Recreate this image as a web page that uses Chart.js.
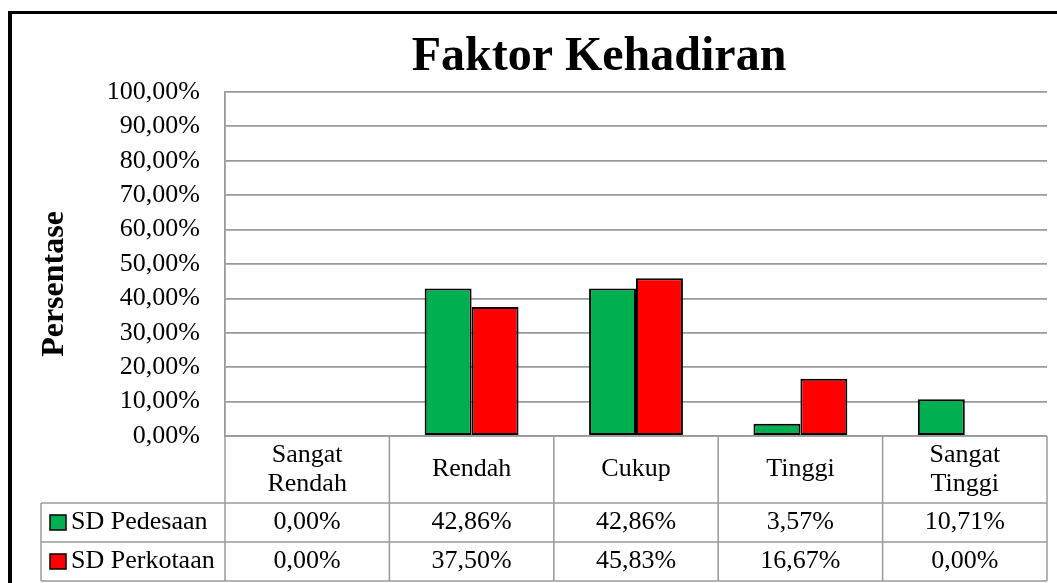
<!DOCTYPE html>
<html>
<head>
<meta charset="utf-8">
<script src="https://cdn.jsdelivr.net/npm/chart.js@4/dist/chart.umd.min.js"></script>
<style>
  body { margin: 0; background: #fff; }
</style>
</head>
<body>
<canvas id="kehadiranChart" width="1057" height="583"></canvas>
<script>
var categories = [["Sangat", "Rendah"], ["Rendah"], ["Cukup"], ["Tinggi"], ["Sangat", "Tinggi"]];
var seriesNames = ["SD Pedesaan", "SD Perkotaan"];
var pedesaan = [0, 42.86, 42.86, 3.57, 10.71];
var perkotaan = [0, 37.50, 45.83, 16.67, 0];
var barColors = ["#00B050", "#FF0000"];

var serif = "'Liberation Serif', 'Times New Roman', serif";
var gridGray = "#9a9a9a";

function pct(v) {
    return v.toFixed(2).replace(".", ",") + "%";
}

// frame, title, axis title and the data table under the plot
var extras = {
    id: "extras",
    afterDraw: function (chart) {
        var ctx = chart.ctx;
        var area = chart.chartArea;
        var x = chart.scales.x;
        var catW = area.width / categories.length;
        var rowTop = area.bottom;
        var rowHead = 503, row1 = 542, row2 = 581;
        var labelLeft = 41;

        ctx.save();
        // outer frame
        ctx.strokeStyle = "#000";
        ctx.lineWidth = 3;
        ctx.beginPath();
        ctx.moveTo(8, 12.5);
        ctx.lineTo(1057, 12.5);
        ctx.stroke();
        ctx.lineWidth = 4;
        ctx.beginPath();
        ctx.moveTo(10, 11);
        ctx.lineTo(10, 583);
        ctx.stroke();

        // title
        ctx.fillStyle = "#000";
        ctx.textAlign = "center";
        ctx.textBaseline = "alphabetic";
        ctx.font = "bold 48px " + serif;
        ctx.fillText("Faktor Kehadiran", 599, 70);

        // y axis title
        ctx.save();
        ctx.translate(55, 284);
        ctx.rotate(-Math.PI / 2);
        ctx.textBaseline = "middle";
        ctx.font = "bold 32px " + serif;
        ctx.fillText("Persentase", 0, 0);
        ctx.restore();

        // table lines
        ctx.strokeStyle = gridGray;
        ctx.lineWidth = 1.5;
        ctx.beginPath();
        [rowHead, row1, row2].forEach(function (y) {
            ctx.moveTo(labelLeft, y);
            ctx.lineTo(area.right, y);
        });
        ctx.moveTo(area.left, rowTop);
        ctx.lineTo(area.right, rowTop);
        ctx.moveTo(labelLeft, rowHead);
        ctx.lineTo(labelLeft, row2);
        for (var i = 0; i <= categories.length; i++) {
            var lx = area.left + i * catW;
            ctx.moveTo(lx, rowTop);
            ctx.lineTo(lx, row2);
        }
        ctx.stroke();

        // table text
        ctx.fillStyle = "#000";
        ctx.font = "26px " + serif;
        ctx.textAlign = "center";
        ctx.textBaseline = "middle";
        var headMid = (rowTop + rowHead) / 2;
        categories.forEach(function (lines, i) {
            var cx = x.getPixelForValue(i);
            var lh = 29;
            var y0 = headMid - (lines.length - 1) * lh / 2;
            lines.forEach(function (t, k) {
                ctx.fillText(t, cx, y0 + k * lh);
            });
        });
        var rows = [pedesaan, perkotaan];
        var mids = [(rowHead + row1) / 2, (row1 + row2) / 2];
        rows.forEach(function (vals, r) {
            vals.forEach(function (v, i) {
                ctx.fillText(pct(v), x.getPixelForValue(i), mids[r]);
            });
            // legend key + name
            ctx.fillStyle = barColors[r];
            ctx.fillRect(50, mids[r] - 7.5, 16, 15);
            ctx.strokeStyle = "#000";
            ctx.lineWidth = 1.5;
            ctx.strokeRect(50, mids[r] - 7.5, 16, 15);
            ctx.fillStyle = "#000";
            ctx.textAlign = "left";
            ctx.fillText(seriesNames[r], 71, mids[r]);
            ctx.textAlign = "center";
        });
        ctx.restore();
    }
};

function edge(ctx) {
    return ctx.raw === 0 ? 0 : 2;
}

new Chart("kehadiranChart", {
    type: "bar",
    data: {
        labels: categories.map(function (c) { return c.join(" "); }),
        datasets: [{
            label: seriesNames[0],
            data: pedesaan,
            backgroundColor: barColors[0],
            borderColor: "#000",
            borderWidth: edge,
            borderSkipped: false
        }, {
            label: seriesNames[1],
            data: perkotaan,
            backgroundColor: barColors[1],
            borderColor: "#000",
            borderWidth: edge,
            borderSkipped: false
        }]
    },
    options: {
        responsive: false,
        animation: false,
        devicePixelRatio: 1,
        layout: {
            padding: { top: 92, right: 10, left: 0, bottom: 0 }
        },
        datasets: {
            bar: {
                barPercentage: 1,
                categoryPercentage: 0.571
            }
        },
        plugins: {
            legend: { display: false },
            title: { display: false }
        },
        scales: {
            x: {
                ticks: { display: false },
                grid: { display: false },
                border: { display: false },
                afterFit: function (s) { s.height = 147; }
            },
            y: {
                min: 0,
                max: 100,
                ticks: {
                    stepSize: 10,
                    padding: 25,
                    color: "#000",
                    font: { family: serif, size: 26 },
                    callback: function (v) { return pct(v); }
                },
                grid: {
                    color: gridGray,
                    lineWidth: 1.8,
                    drawTicks: false
                },
                border: { color: gridGray, width: 1.8 },
                afterFit: function (s) { s.width = 225; }
            }
        }
    },
    plugins: [extras]
});
</script>
</body>
</html>
